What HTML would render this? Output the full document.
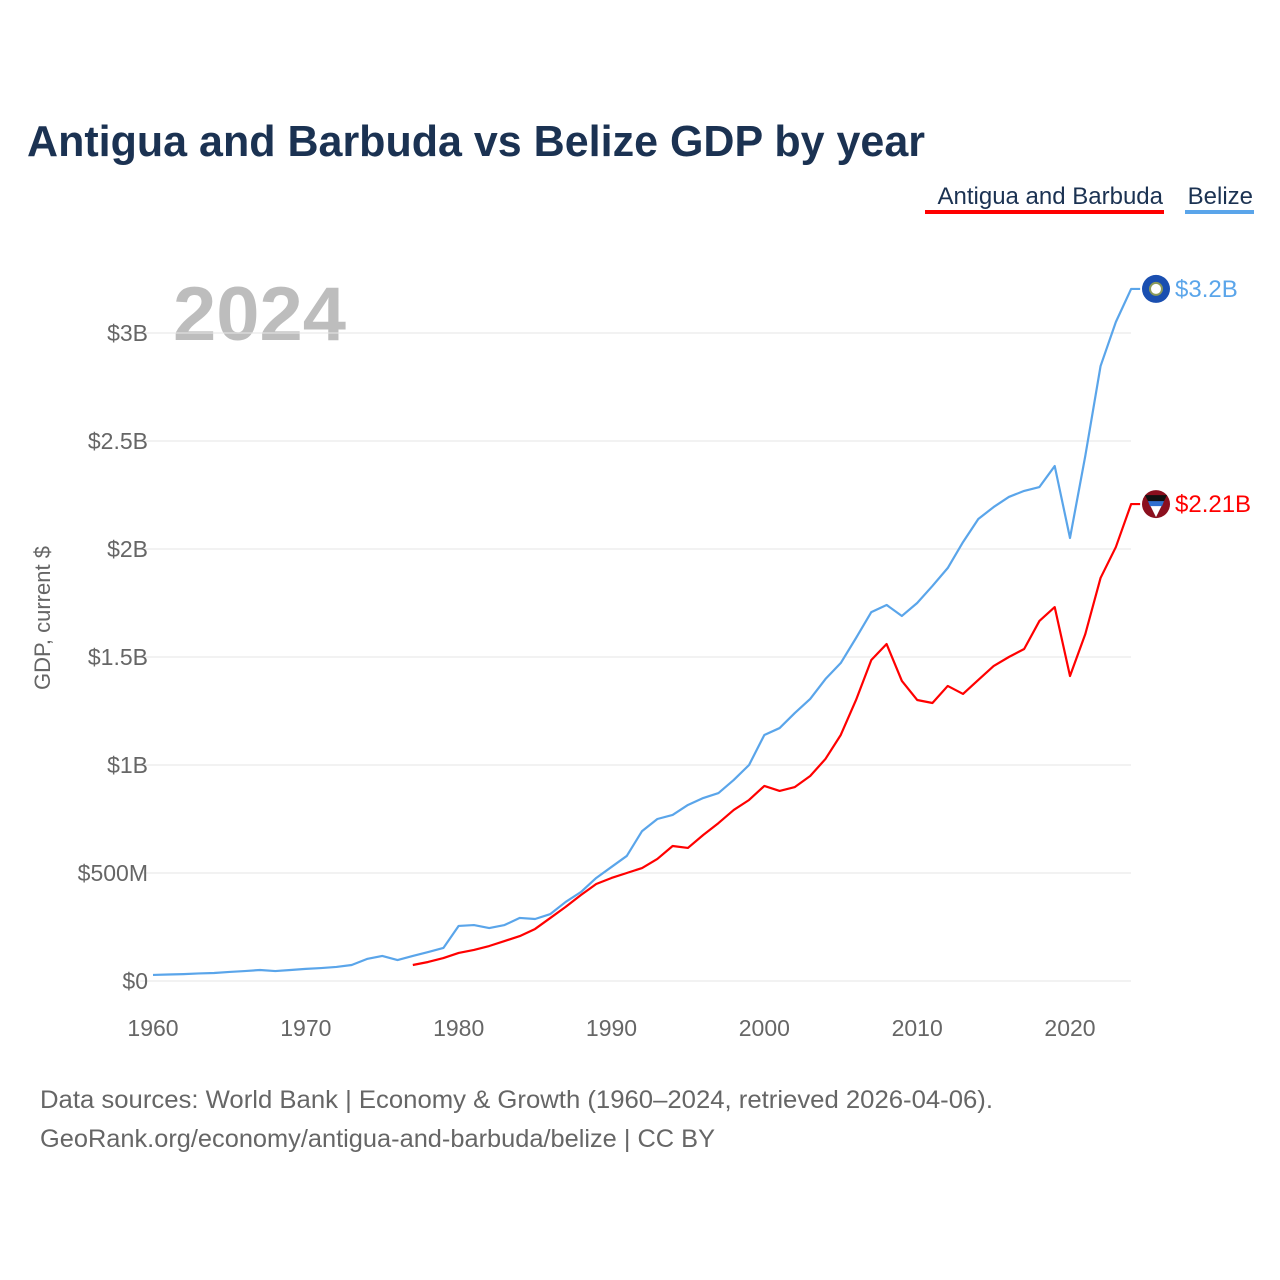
<!DOCTYPE html>
<html><head><meta charset="utf-8"><style>
body{margin:0;background:#fff;font-family:"Liberation Sans",sans-serif;}
#wrap{position:relative;width:1280px;height:1280px;overflow:hidden;}
</style></head><body>
<div id="wrap">
<svg id="chart" width="1280" height="1280">
<text x="27" y="156" font-size="44" font-weight="bold" fill="#1b3252" textLength="898" lengthAdjust="spacingAndGlyphs">Antigua and Barbuda vs Belize GDP by year</text>
<g>
<text x="1163" y="204" font-size="24" fill="#1b3252" text-anchor="end">Antigua and Barbuda</text>
<rect x="925" y="210" width="239" height="4" fill="#ff0000"/></g>
<g>
<text x="1253" y="204" font-size="24" fill="#1b3252" text-anchor="end">Belize</text>
<rect x="1185" y="210" width="69" height="4" fill="#5aa5ea"/></g>
<text x="173" y="340" font-size="76" font-weight="bold" fill="#bdbdbd" textLength="173" lengthAdjust="spacingAndGlyphs">2024</text>
<text transform="translate(50,618) rotate(-90)" font-size="22" fill="#666" text-anchor="middle">GDP, current $</text>
<g id="grid"></g><g id="lines"></g>
<text x="40" y="1108" font-size="25" fill="#666" textLength="953" lengthAdjust="spacingAndGlyphs">Data sources: World Bank | Economy &amp; Growth (1960–2024, retrieved 2026-04-06).</text>
<text x="40" y="1147" font-size="25" fill="#666" textLength="675" lengthAdjust="spacingAndGlyphs">GeoRank.org/economy/antigua-and-barbuda/belize | CC BY</text>
</svg></div>
<script>
const yTicks=[0,0.5,1,1.5,2,2.5,3];
const yTickLabels=["$0","$500M","$1B","$1.5B","$2B","$2.5B","$3B"];
const xTicks=[1960,1970,1980,1990,2000,2010,2020];
const belizeStart=1960;
const belize=[.028,.030,.032,.035,.037,.042,.046,.051,.046,.051,.056,.060,.065,.074,.102,.116,.097,.116,.134,.153,.255,.259,.245,.259,.292,.287,.310,.366,.412,.477,.528,.579,.694,.750,.769,.815,.847,.870,.931,1.000,1.139,1.171,1.241,1.306,1.398,1.472,1.588,1.708,1.741,1.690,1.750,1.829,1.912,2.032,2.139,2.194,2.241,2.269,2.287,2.384,2.051,2.431,2.847,3.051,3.204];
const antiguaStart=1977;
const antigua=[.074,.088,.106,.130,.144,.162,.185,.208,.241,.292,.343,.398,.449,.477,.500,.523,.565,.625,.616,.676,.731,.792,.838,.903,.880,.898,.949,1.028,1.139,1.301,1.486,1.560,1.389,1.301,1.287,1.366,1.329,1.394,1.458,1.500,1.537,1.667,1.731,1.412,1.606,1.866,2.009,2.208];
const X=yr=>153+(yr-1960)*(1070-153)/60;
const Y=v=>981-v*216;
const NS="http://www.w3.org/2000/svg";
const grid=document.getElementById('grid'),lines=document.getElementById('lines');
function mk(tag,attrs,parent){const e=document.createElementNS(NS,tag);for(const k in attrs)e.setAttribute(k,attrs[k]);parent.appendChild(e);return e;}
yTicks.forEach((v,i)=>{
 const l=mk('line',{x1:140,x2:1131,y1:Y(v),y2:Y(v),stroke:'#e6e6e6','stroke-width':1},grid);
 
 
 const t=mk('text',{x:148,y:Y(v)+8,'font-size':23,fill:'#666','text-anchor':'end'},grid);
 t.textContent=yTickLabels[i];
 
 
});
xTicks.forEach(yr=>{
 const t=mk('text',{x:X(yr),y:1036,'font-size':23,fill:'#666','text-anchor':'middle'},grid);
 t.textContent=yr;
 
 
});
function series(vals,start,color,name,label){
 const pts=vals.map((v,i)=>X(start+i)+','+Y(v));
 const last=vals[vals.length-1];
 pts.push((X(start+vals.length-1)+9)+','+Y(last));
 const p=mk('polyline',{points:pts.join(' '),fill:'none',stroke:color,'stroke-width':2.2,'stroke-linejoin':'round'},lines);
 
 
 const cy=Y(last);
 const c=mk('circle',{cx:1156,cy:cy,r:14,fill:name==='belize'?'#1a4fb0':'#8b0f1e'},lines);
 
 
 if(name==='belize'){
  mk('circle',{cx:1156,cy:cy,r:6,fill:'#fff',stroke:'#8a9a5a','stroke-width':2},lines);
 }else{
  mk('path',{d:`M1145 ${cy-9} L1167 ${cy-9} L1156 ${cy+13} Z`,fill:'#111'},lines);
  mk('path',{d:`M1149 ${cy-1} L1163 ${cy-1} L1156 ${cy+13} Z`,fill:'#fff'},lines);
  mk('path',{d:`M1148 ${cy-3} L1164 ${cy-3} L1162 ${cy+2} L1150 ${cy+2} Z`,fill:'#2f6fd0'},lines);
 }
 const t=mk('text',{x:1175,y:cy+8,'font-size':24,fill:color},lines);
 t.textContent=label;
 
 
}
series(belize,belizeStart,'#5aa5ea','belize','$3.2B');
series(antigua,antiguaStart,'#ff0000','antigua','$2.21B');
</script>
</body></html>
